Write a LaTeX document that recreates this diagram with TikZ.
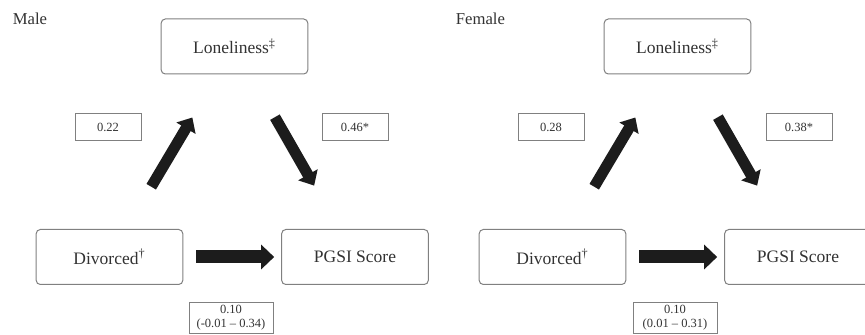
\documentclass[tikz,border=0pt]{standalone}
\usepackage{fontspec}
\setmainfont{Liberation Serif}
\usepackage{tikz}
\usetikzlibrary{positioning,arrows.meta}
\definecolor{boxgray}{RGB}{128,128,128}
\definecolor{txtgray}{RGB}{50,50,50}
\definecolor{arrgray}{RGB}{28,28,28}

\begin{document}
\begin{tikzpicture}[x=0.6pt,y=-0.6pt,
  var/.style={draw=boxgray,line width=0.6pt,rounded corners=2.5pt,minimum width=88pt,minimum height=33pt,text=txtgray,font=\fontsize{10.5}{12}\selectfont},
  coef/.style={draw=boxgray,line width=0.6pt,minimum width=39.6pt,minimum height=16.2pt,inner sep=1pt,text=txtgray,font=\fontsize{7.5}{8.5}\selectfont,align=center},
  panel/.style={anchor=west,text=txtgray,font=\fontsize{10}{12}\selectfont},
  fat/.style={draw=arrgray,line width=6.6pt,-{Triangle[width=13pt,length=7.5pt]},shorten <=29.5pt,shorten >=30pt},
  flat/.style={draw=arrgray,line width=7.8pt,-{Triangle[width=14.4pt,length=7.8pt]},shorten <=7.8pt,shorten >=4.2pt}]
  \useasboundingbox (0,0) rectangle (865,335);

  % male
  \node[panel] (male) at (7,19) {Male};
  \node[var] (lm) at (234.5,46.5) {Loneliness\textsuperscript{‡}};
  \node[var] (dm) at (109.5,257) {Divorced\textsuperscript{†}};
  \node[var] (pm) at (355,257) {PGSI Score};
  \node[coef] (am) at (108,127.5) {0.22};
  \node[coef] (bm) at (355,127.5) {0.46*};
  \node[coef,minimum width=50.4pt,minimum height=18.6pt] (cm) at (231,317.5) {0.10\\(-0.01 – 0.34)};
  \draw[fat] (dm) -- (lm);
  \draw[fat] (lm) -- (pm);
  \draw[flat] (dm) -- (pm);

  % female
  \node[panel] (female) at (450,19) {Female};
  \node[var] (lf) at (677.5,46.5) {Loneliness\textsuperscript{‡}};
  \node[var] (df) at (552.5,257) {Divorced\textsuperscript{†}};
  \node[var] (pf) at (798,257) {PGSI Score};
  \node[coef] (af) at (551,127.5) {0.28};
  \node[coef] (bf) at (799,127.5) {0.38*};
  \node[coef,minimum width=50.4pt,minimum height=18.6pt] (cf) at (675,317.5) {0.10\\(0.01 – 0.31)};
  \draw[fat] (df) -- (lf);
  \draw[fat] (lf) -- (pf);
  \draw[flat] (df) -- (pf);
\end{tikzpicture}
\end{document}
